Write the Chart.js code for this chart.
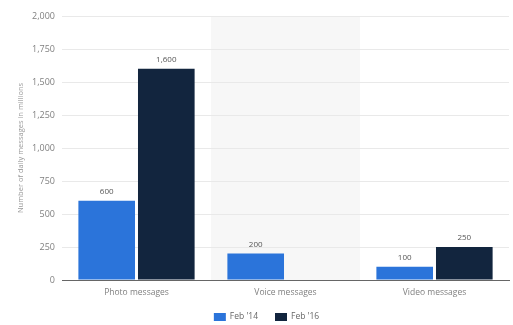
<!DOCTYPE html>
<html>
<head>
<meta charset="utf-8">
<script src="https://cdn.jsdelivr.net/npm/chart.js@4/dist/chart.umd.min.js"></script>
<style>
  html, body { margin: 0; padding: 0; background: #fff; }
  #wrap { width: 513px; height: 325px; }
</style>
</head>
<body>
<div id="wrap"><canvas id="msgChart"></canvas></div>
<script>
const categories = ["Photo messages", "Voice messages", "Video messages"];
const feb14 = [600, 200, 100];
const feb16 = [1600, null, 250];
const seriesNames = ["Feb '14", "Feb '16"];
const yTicks = [0, 250, 500, 750, 1000, 1250, 1500, 1750, 2000];

const blue = "#2b74da";
const navy = "#12253e";
const greyText = "#808080";

// shaded band behind the middle category (drawn under the grid)
const bandPlugin = {
  id: "band",
  beforeDraw(chart) {
    const x = chart.scales.x;
    const area = chart.chartArea;
    const step = x.width / categories.length;
    const left = x.getPixelForValue(1) - step / 2;
    const ctx = chart.ctx;
    ctx.save();
    ctx.fillStyle = "#f7f7f7";
    ctx.fillRect(left, area.top, step, area.bottom - area.top);
    ctx.restore();
  }
};

// numbers on top of bars
const valueLabels = {
  id: "valueLabels",
  afterDatasetsDraw(chart) {
    const ctx = chart.ctx;
    ctx.save();
    ctx.font = "8px 'Open Sans'";
    ctx.fillStyle = "#555";
    ctx.textAlign = "center";
    ctx.textBaseline = "bottom";
    chart.data.datasets.forEach((ds, i) => {
      chart.getDatasetMeta(i).data.forEach((bar, j) => {
        const v = ds.data[j];
        if (v == null) return;
        ctx.fillText(v.toLocaleString("en-US"), bar.x, bar.y - 5);
      });
    });
    ctx.restore();
  }
};

// small legend at the very bottom
const bottomLegend = {
  id: "bottomLegend",
  afterDraw(chart) {
    const ctx = chart.ctx;
    const boxW = 12, boxH = 8, gap = 4, between = 17;
    ctx.save();
    ctx.font = "8.5px 'Open Sans'";
    const widths = chart.data.datasets.map(ds => ctx.measureText(ds.label).width);
    let total = 0;
    widths.forEach(w => { total += boxW + gap + w; });
    total += between * (widths.length - 1);
    let x = chart.width / 2 + 10 - total / 2;
    const y = 317;
    ctx.textBaseline = "middle";
    chart.data.datasets.forEach((ds, i) => {
      ctx.fillStyle = ds.backgroundColor;
      ctx.fillRect(x, y - boxH / 2, boxW, boxH);
      x += boxW + gap;
      ctx.fillStyle = "#666";
      ctx.fillText(ds.label, x, y);
      x += widths[i] + between;
    });
    ctx.restore();
  }
};

new Chart(document.getElementById("msgChart"), {
  type: "bar",
  data: {
    labels: categories,
    datasets: [
      { label: seriesNames[0], data: feb14, backgroundColor: blue },
      { label: seriesNames[1], data: feb16, backgroundColor: navy }
    ]
  },
  options: {
    responsive: true,
    maintainAspectRatio: false,
    animation: false,
    categoryPercentage: 0.8,
    barPercentage: 0.95,
    layout: { padding: { top: 16, right: 4, left: 0, bottom: 16 } },
    scales: {
      x: {
        afterFit: s => { s.height = 29; },
        grid: { display: false, drawTicks: false },
        border: { color: "#666", width: 1 },
        ticks: { color: greyText, font: { size: 8.5, family: "'Open Sans'" }, padding: 7 }
      },
      y: {
        min: 0,
        max: 2000,
        afterBuildTicks: s => { s.ticks = yTicks.map(v => ({ value: v })); },
        afterFit: s => { s.width = 62; },
        grid: { color: "#e9e9e9", drawTicks: false },
        border: { display: false },
        ticks: {
          color: greyText,
          padding: 7,
          font: { size: 9, family: "'Open Sans'" },
          callback: v => v.toLocaleString("en-US")
        },
        title: {
          display: true,
          text: "Number of daily messages in millions",
          color: "#999",
          font: { size: 7.5, family: "'Open Sans'" },
          padding: { top: 16, bottom: 2 }
        }
      }
    },
    plugins: {
      legend: { display: false },
      tooltip: { enabled: false }
    }
  },
  plugins: [bandPlugin, valueLabels, bottomLegend]
});
</script>
</body>
</html>
